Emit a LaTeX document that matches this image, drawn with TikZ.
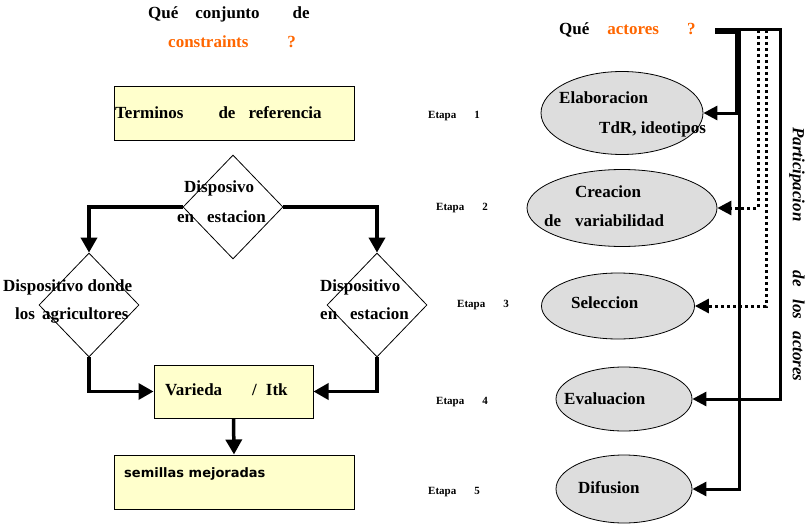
\documentclass[tikz,border=0pt]{standalone}
\usepackage{fontspec}
\setmainfont{Liberation Serif}
\newfontfamily\semfont{DejaVu Sans}
\usetikzlibrary{shapes.geometric,arrows.meta}
\definecolor{qorange}{RGB}{255,102,0}
\definecolor{boxyellow}{RGB}{255,255,204}
\definecolor{ovalgray}{RGB}{221,221,221}

\begin{document}
\begin{tikzpicture}[x=1pt,y=-1pt,
    txt/.style={anchor=base west,inner sep=0pt,font=\fontsize{17}{20}\selectfont\bfseries},
    etapa/.style={anchor=base west,inner sep=0pt,font=\fontsize{11}{13}\selectfont\bfseries},
    cajon/.style={draw,line width=1pt,fill=boxyellow,minimum width=240pt,minimum height=53pt,inner sep=0pt},
    rombo/.style={draw,line width=0.8pt,diamond,minimum width=100pt,minimum height=104pt,inner sep=0pt},
    ovalo/.style={draw,line width=0.8pt,ellipse,fill=ovalgray,inner sep=0pt},
    flecha/.style={line width=3.5pt,-{Triangle[length=15pt,width=16pt]}},
    actor/.style={line width=3pt,-{Triangle[length=14pt,width=14pt]}},
    punteado/.style={actor,dash pattern=on 3pt off 3pt}]

    \useasboundingbox (0,0) rectangle (806,527);

    \node[txt] (q1) at (148,19) {Qué\hspace{17pt}conjunto\hspace{33pt}de};
    \node[txt,text=qorange] (q2) at (168,48) {constraints\hspace{39pt}?};

    \node[cajon] (tdr) at (234,113.5) {};
    \node[txt] at (115,118) {Terminos\hspace{35pt}de\hspace{13pt}referencia};

    \node[rombo] (dtop) at (233,207) {};
    \node[txt] at (184,192) {Disposivo};
    \node[txt] at (177,222) {en\hspace{13pt}estacion};

    \node[rombo] (dl) at (89,305) {};
    \node[txt] at (3,291) {Dispositivo donde};
    \node[txt] at (15,319) {los\hspace{7pt}agricultores};

    \node[rombo] (dr) at (377,305) {};
    \node[txt] at (320,291) {Dispositivo};
    \node[txt] at (320,319) {en\hspace{13pt}estacion};

    \node[cajon,minimum width=159pt] (var) at (233.5,391.5) {};
    \node[txt] at (165,395) {Varieda\hspace{30pt}/\hspace{9pt}Itk};

    \node[cajon,minimum height=54pt] (sem) at (234,482) {};
    \node[anchor=base west,inner sep=0pt,font=\semfont\fontsize{13}{15}\selectfont\bfseries] at (124,477) {semillas mejoradas};

    \draw[flecha] (dtop.west) -| (dl.north);
    \draw[flecha] (dtop.east) -| (dr.north);
    \draw[flecha] (dl.south) |- (var.west);
    \draw[flecha] (dr.south) |- (var.east);
    \draw[flecha] (var.south) -- (sem.north);

    \node[txt] (q3) at (559,35) {Qué\hspace{18pt}\textcolor{qorange}{actores\hspace{28pt}?}};

    \node[ovalo,minimum width=162pt,minimum height=83pt] (elab) at (622,113) {};
    \node[txt] at (559,103) {Elaboracion};
    \node[txt] at (599,133) {TdR, ideotipos};

    \node[ovalo,minimum width=190pt,minimum height=77pt] (crea) at (622,208) {};
    \node[txt] at (575,197) {Creacion};
    \node[txt] at (544,226) {de\hspace{14pt}variabilidad};

    \node[ovalo,minimum width=153pt,minimum height=66pt] (sel) at (618,306) {};
    \node[txt] at (571,308) {Seleccion};

    \node[ovalo,minimum width=136pt,minimum height=64pt] (eva) at (624,399) {};
    \node[txt] at (564,404) {Evaluacion};

    \node[ovalo,minimum width=136pt,minimum height=68pt] (dif) at (624,489) {};
    \node[txt] at (578,493) {Difusion};

    \foreach \n/\x/\y in {1/428/118, 2/436/210, 3/457/307, 4/436/404, 5/428/494}
    \node[etapa] (et\n) at (\x,\y) {Etapa\hspace{18pt}\n};

    \coordinate (barra) at (715,30);
    \coordinate (t1) at (736,30);
    \coordinate (t2) at (739,30);
    \coordinate (t3) at (758,30);
    \coordinate (t4) at (766,30);
    \coordinate (t5) at (780,30);

    \fill (715,28) rectangle (740,34.5);
    \draw[actor] (barra) -- (t5) |- (eva.east);
    \draw[actor] (t1) |- (elab.east);
    \draw[actor] (t2) |- (dif.east);
    \draw[punteado] (t3) |- (crea.east);
    \draw[punteado] (t4) |- (sel.east);

    \node[anchor=west,inner sep=0pt,rotate=-90,font=\fontsize{17}{20}\selectfont\bfseries\itshape] (part) at (797,127)
      {Participacion\hspace{49pt}de\hspace{13pt}los\hspace{12pt}actores};
  \end{tikzpicture}
\end{document}
